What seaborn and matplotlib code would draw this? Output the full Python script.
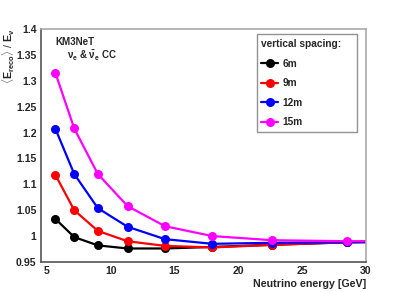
"""
plot.py
-------
Mean reconstructed / true energy vs neutrino energy for several
vertical DOM spacings (KM3NeT, nu_e CC).
"""

import numpy as np
import pandas as pd
import matplotlib
matplotlib.use("Agg")
import matplotlib.pyplot as plt
from matplotlib.ticker import MultipleLocator
import seaborn as sns

# ── Data ──────────────────────────────────────────────────────────────────────

energy = [5.66, 7.13, 8.98, 11.31, 14.25, 17.96, 22.63, 28.51, 35.92]

ratio_6m = [1.033, 0.998, 0.982, 0.976, 0.976, 0.979, 0.983, 0.988, 0.990]
ratio_9m = [1.118, 1.050, 1.010, 0.990, 0.981, 0.978, 0.983, 0.988, 0.990]
ratio_12m = [1.207, 1.120, 1.054, 1.018, 0.994, 0.985, 0.987, 0.988, 0.990]
ratio_15m = [1.315, 1.208, 1.120, 1.058, 1.019, 1.000, 0.992, 0.990, 0.991]

spacings = ["6m", "9m", "12m", "15m"]
colors = ["#000000", "#ff0000", "#0000ff", "#ff00ff"]

# ── Style ─────────────────────────────────────────────────────────────────────

sns.set_style("white")
plt.rcParams["font.family"] = ["Liberation Sans", "DejaVu Sans"]
plt.rcParams["font.weight"] = "bold"
plt.rcParams["mathtext.fontset"] = "custom"
plt.rcParams["mathtext.rm"] = "Liberation Sans:bold"
plt.rcParams["mathtext.it"] = "Liberation Sans:bold"
plt.rcParams["mathtext.bf"] = "Liberation Sans:bold"

df = pd.DataFrame({
    "energy": energy * 4,
    "ratio": ratio_6m + ratio_9m + ratio_12m + ratio_15m,
    "spacing": sum([[s] * len(energy) for s in spacings], []),
})

# ── Plot ──────────────────────────────────────────────────────────────────────

fig = plt.figure(figsize=(4.07, 2.92), dpi=100)
ax = fig.add_axes([0.100, 0.103, 0.799, 0.797])

sns.lineplot(
    data=df, x="energy", y="ratio", hue="spacing", hue_order=spacings,
    palette=colors, marker="o", markersize=6.5, markeredgewidth=0,
    linewidth=1.6, ax=ax, legend=False,
)

ax.set_xlim(4.5, 30)
ax.set_ylim(0.95, 1.4)
ax.xaxis.set_major_locator(MultipleLocator(5))
ax.xaxis.set_minor_locator(MultipleLocator(1))
ax.yaxis.set_major_locator(MultipleLocator(0.05))
ax.yaxis.set_minor_locator(MultipleLocator(0.01))
ax.yaxis.set_major_formatter(plt.FuncFormatter(lambda v, _: f"{v:g}"))

ax.tick_params(which="both", direction="in", top=False, right=False,
               color="#555555", labelsize=7.6, pad=3)
ax.tick_params(which="major", length=8, width=0.8)
ax.tick_params(which="minor", length=4, width=0.8)
for lbl in ax.get_xticklabels() + ax.get_yticklabels():
    lbl.set_fontweight("bold")

for side in ["left", "bottom"]:
    ax.spines[side].set_color("#555555")
for side in ["top", "right"]:
    ax.spines[side].set_color("#aaaaaa")
for sp in ax.spines.values():
    sp.set_linewidth(1.2)

ax.set_xlabel("Neutrino energy [GeV]", loc="right", fontsize=7.7,
              fontweight="bold", labelpad=2)
ax.set_ylabel(r"$\langle E_{reco}\rangle$ / $E_{\nu}$", fontsize=7.7)
ax.yaxis.set_label_coords(-0.099, 1.0)
ax.yaxis.label.set_ha("right")
ax.yaxis.label.set_va("center")

ax.text(0.044, 0.965, "KM3NeT", transform=ax.transAxes, fontsize=7,
        fontweight="bold", va="top")
ax.text(0.080, 0.885, r"$\nu_e$ & $\bar{\nu}_e$ CC", transform=ax.transAxes,
        fontsize=7, va="center")

handles = [
    plt.Line2D([], [], color=c, marker="o", markersize=6.5,
               markeredgewidth=0, linewidth=1.6)
    for c in colors
]
leg = ax.legend(
    handles, spacings, title="vertical spacing:", loc="upper left",
    bbox_to_anchor=(0.664, 0.0, 0.31, 0.978), mode="expand",
    borderaxespad=0, frameon=True, fancybox=False, edgecolor="#777777",
    fontsize=7.3, title_fontsize=7.3, handlelength=1.7, handletextpad=0.4,
    labelspacing=0.95, borderpad=0.45, alignment="left",
)
leg.get_title().set_fontweight("bold")
for t in leg.get_texts():
    t.set_fontweight("bold")
leg.get_frame().set_linewidth(1.0)

plt.savefig("out.png", dpi=100)
plt.close()
